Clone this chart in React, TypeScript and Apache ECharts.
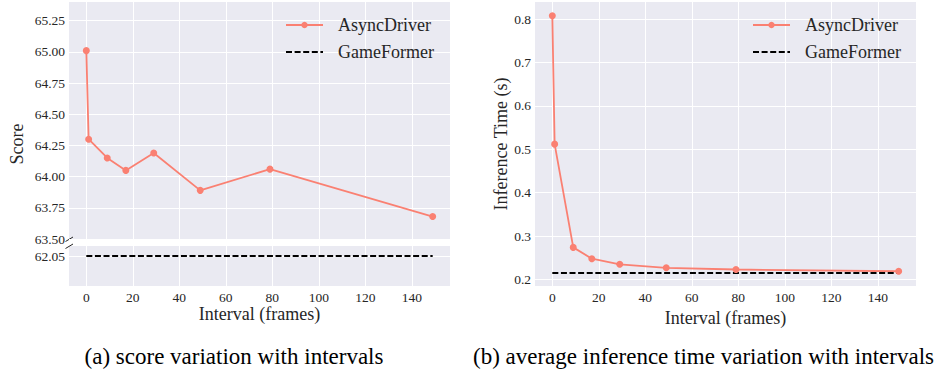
import { useEffect, useRef } from 'react';
import * as echarts from 'echarts';

const intervals = [0, 1, 9, 17, 29, 49, 79, 149];
const asyncScore = [65.01, 64.3, 64.15, 64.05, 64.19, 63.89, 64.06, 63.68];
const gameFormerScore = 62.05;
const asyncTime = [0.808, 0.512, 0.274, 0.248, 0.235, 0.227, 0.223, 0.219];
const gameFormerTime = 0.215;
const xTicks = [0, 20, 40, 60, 80, 100, 120, 140];
const scoreTicks = [63.5, 63.75, 64.0, 64.25, 64.5, 64.75, 65.0, 65.25];
const scoreLowTicks = [62.05];
const timeTicks = [0.2, 0.3, 0.4, 0.5, 0.6, 0.7, 0.8];

const FONT = 'Liberation Serif';
const TXT = '#262626';
const SALMON = '#FA8072';
const BG = '#EAEAF2';

function xAxisOpt(gridIndex: number, showLabels: boolean, name?: string) {
  return {
    type: 'value',
    gridIndex,
    min: -7.45,
    max: 156.45,
    name: name || '',
    nameLocation: 'middle',
    nameGap: 15,
    nameTextStyle: { fontFamily: FONT, fontSize: 18, color: TXT },
    axisLine: { show: false },
    axisTick: { show: false, customValues: xTicks },
    axisLabel: {
      show: showLabels,
      customValues: xTicks,
      fontFamily: FONT,
      fontSize: 13.5,
      color: TXT,
      margin: 4,
    },
    splitLine: { show: true, lineStyle: { color: '#ffffff', width: 1 } },
  };
}

function yAxisOpt(gridIndex: number, min: number, max: number, ticks: number[], digits: number, name?: string) {
  return {
    type: 'value',
    gridIndex,
    min,
    max,
    name: name || '',
    nameLocation: 'middle',
    nameGap: 25,
    nameTextStyle: { fontFamily: FONT, fontSize: 18, color: TXT },
    axisLine: { show: false },
    axisTick: { show: false, customValues: ticks },
    axisLabel: {
      customValues: ticks,
      fontFamily: FONT,
      fontSize: 13.5,
      color: TXT,
      margin: 4,
      formatter: (v: number) => v.toFixed(digits),
    },
    splitLine: { show: true, lineStyle: { color: '#ffffff', width: 1 } },
  };
}

function legendOpt(left: number) {
  return {
    left,
    top: 16,
    padding: 0,
    orient: 'vertical',
    itemWidth: 37,
    itemHeight: 8,
    itemGap: 9,
    selectedMode: false,
    data: ['AsyncDriver', { name: 'GameFormer', itemStyle: { opacity: 0 } }],
    textStyle: { fontFamily: FONT, fontSize: 18, color: TXT, padding: [0, 0, 0, 10] },
  };
}

function asyncSeries(xi: number, yi: number, values: number[]) {
  return {
    name: 'AsyncDriver',
    type: 'line',
    xAxisIndex: xi,
    yAxisIndex: yi,
    data: intervals.map((x, i) => [x, values[i]]),
    symbol: 'circle',
    symbolSize: 7,
    lineStyle: { color: SALMON, width: 1.8 },
    itemStyle: { color: SALMON },
  };
}

function baselineSeries(xi: number, yi: number, value: number) {
  return {
    name: 'GameFormer',
    type: 'line',
    xAxisIndex: xi,
    yAxisIndex: yi,
    data: [
      [intervals[0], value],
      [intervals[intervals.length - 1], value],
    ],
    symbol: 'none',
    lineStyle: { color: '#000000', width: 1.8, type: [6, 2.6] },
    itemStyle: { color: '#000000' },
  };
}

function textEl(x: number, y: number, text: string, size: number, fill: string, rotation = 0) {
  return {
    type: 'text',
    x,
    y,
    rotation,
    style: {
      text,
      fontFamily: FONT,
      fontSize: size,
      fill,
      align: 'center',
      verticalAlign: 'middle',
      textAlign: 'center',
      textVerticalAlign: 'middle',
    },
  };
}

export default function App() {
  const ref = useRef<HTMLDivElement>(null);

  useEffect(() => {
    if (!ref.current) return;
    const chart = echarts.init(ref.current, undefined, { renderer: 'svg' });
    const option: any = {
      animation: false,
      backgroundColor: '#ffffff',
      textStyle: { fontFamily: FONT },
      grid: [
        { left: 69, top: 2, width: 381, height: 237, show: true, backgroundColor: BG, borderWidth: 0 },
        { left: 69, top: 246, width: 381, height: 40, show: true, backgroundColor: BG, borderWidth: 0 },
        { left: 535, top: 2, width: 381, height: 284, show: true, backgroundColor: BG, borderWidth: 0 },
      ],
      xAxis: [
        xAxisOpt(0, false),
        xAxisOpt(1, true, 'Interval (frames)'),
        xAxisOpt(2, true, 'Interval (frames)'),
      ],
      yAxis: [
        yAxisOpt(0, 63.5, 65.4, scoreTicks, 2),
        yAxisOpt(1, 61.9, 62.1, scoreLowTicks, 2),
        yAxisOpt(2, 0.185, 0.8397, timeTicks, 1, 'Inference Time (s)'),
      ],
      legend: [legendOpt(285), legendOpt(752)],
      series: [
        asyncSeries(0, 0, asyncScore),
        baselineSeries(1, 1, gameFormerScore),
        asyncSeries(2, 2, asyncTime),
        baselineSeries(2, 2, gameFormerTime),
      ],
      graphic: [
        textEl(17, 144, 'Score', 18, TXT, Math.PI / 2),
        {
          type: 'line',
          shape: { x1: 65.5, y1: 241.5, x2: 73, y2: 237 },
          style: { stroke: TXT, lineWidth: 1 },
        },
        {
          type: 'line',
          shape: { x1: 65.5, y1: 248.5, x2: 73, y2: 244 },
          style: { stroke: TXT, lineWidth: 1 },
        },
        textEl(234, 356, '(a) score variation with intervals', 23, '#000000'),
        textEl(703.5, 356, '(b) average inference time variation with intervals', 23, '#000000'),
      ],
    };
    chart.setOption(option);
    return () => {
      chart.dispose();
    };
  }, []);

  return (
    <div
      ref={ref}
      style={{ position: 'fixed', left: 0, top: 0, width: 938, height: 370, background: '#ffffff' }}
    />
  );
}
